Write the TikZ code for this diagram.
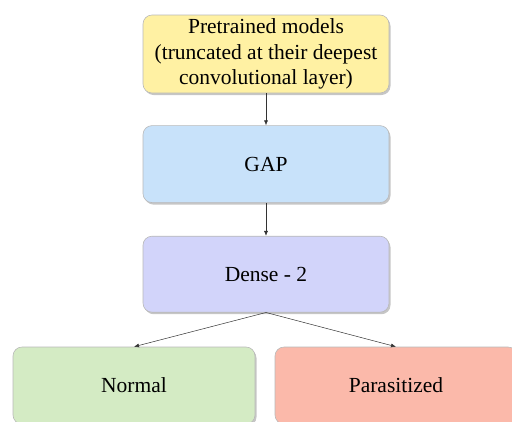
\documentclass[tikz,border=0pt]{standalone}
\usepackage{fontspec}
\setmainfont{Liberation Serif}
\usetikzlibrary{positioning,shadows,arrows.meta}

\definecolor{boxyellow}{RGB}{255,241,163}
\definecolor{boxblue}{RGB}{200,226,250}
\definecolor{boxlilac}{RGB}{210,212,250}
\definecolor{boxgreen}{RGB}{212,235,196}
\definecolor{boxsalmon}{RGB}{251,185,170}

\tikzset{
  layer/.style={draw=gray!55, line width=0.6pt, rounded corners=9pt,
    minimum width=246pt, align=center, inner sep=1pt,
    font=\fontsize{21.5}{25.5}\selectfont,
    drop shadow={shadow xshift=1.5pt,shadow yshift=-2pt,opacity=0.45}},
  link/.style={-{Latex[length=5pt,width=4pt]}, line width=0.5pt, black!80}
}

\begin{document}
\begin{tikzpicture}[x=1pt,y=-1pt]
    \useasboundingbox (0,0) rectangle (512,421);

    \node[layer, fill=boxyellow, minimum height=78pt] (pretrained) at (266,54)
      {Pretrained models\\(truncated at their deepest\\convolutional layer)};
    \node[layer, fill=boxblue, minimum height=77pt, below=32pt of pretrained] (gap) {GAP};
    \node[layer, fill=boxlilac, minimum height=76pt, below=33pt of gap] (dense) {Dense - 2};

    \node[layer, fill=boxgreen, minimum width=242pt, minimum height=77pt] (normal) at (134,385.5) {Normal};
    \node[layer, fill=boxsalmon, minimum width=242pt, minimum height=77pt] (parasitized) at (396,385.5) {Parasitized};

    \draw[link] (pretrained) -- (gap);
    \draw[link] (gap) -- (dense);
    \draw[link] (dense.south) -- (normal.north);
    \draw[link] (dense.south) -- (parasitized.north);
\end{tikzpicture}
\end{document}
